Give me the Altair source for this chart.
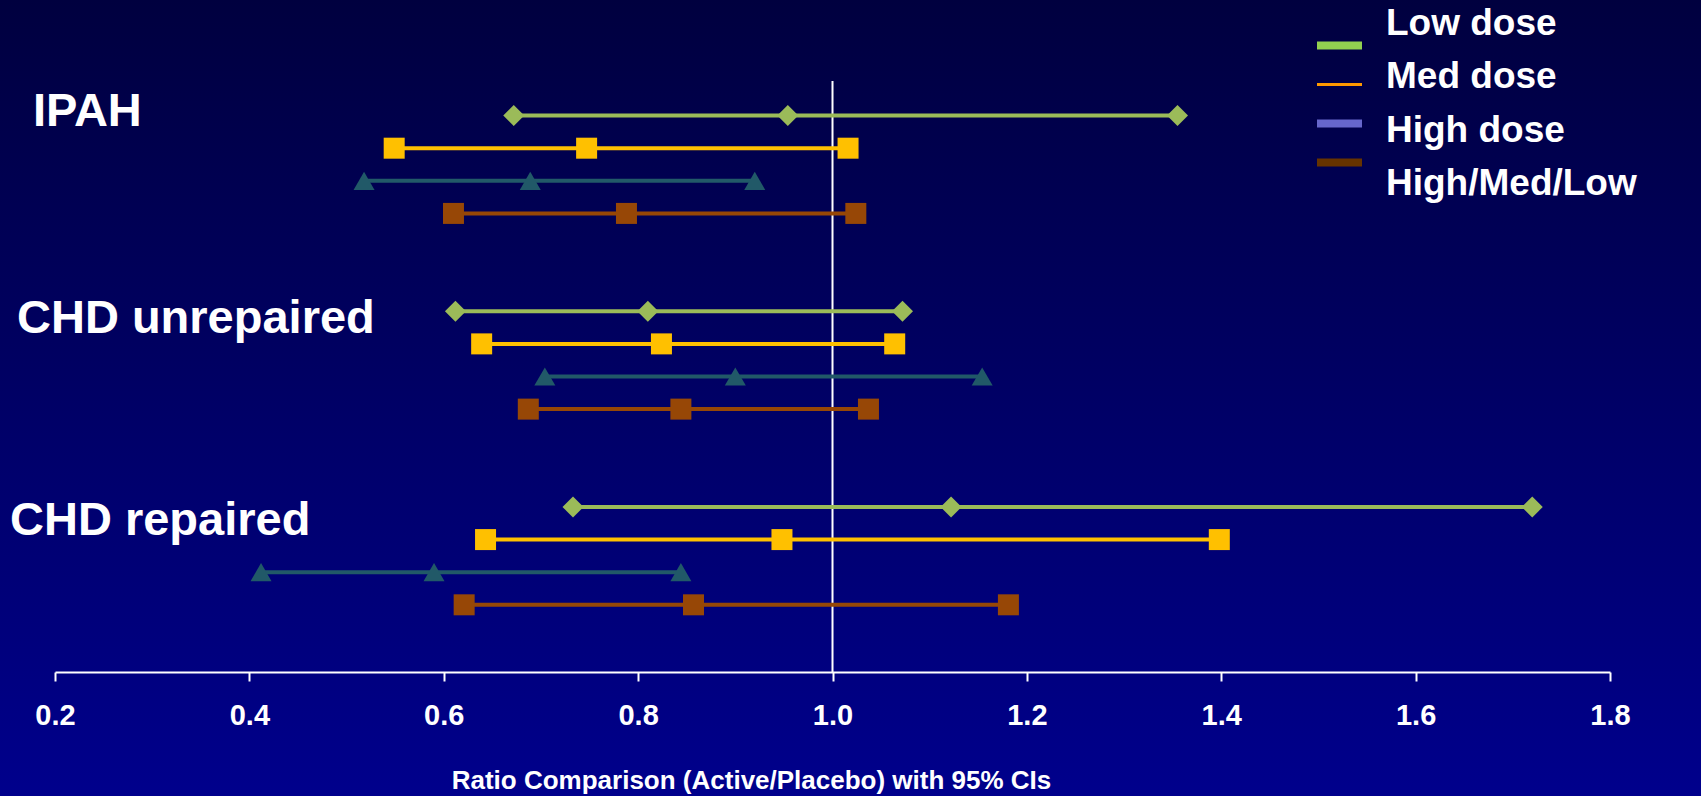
import altair as alt
import pandas as pd

groups = ["IPAH", "CHD unrepaired", "CHD repaired"]
series = ["Low dose", "Med dose", "High dose", "High/Med/Low"]
lower = [[0.672, 0.549, 0.518, 0.610],
         [0.612, 0.639, 0.704, 0.687],
         [0.733, 0.643, 0.412, 0.621]]
estimate = [[0.954, 0.747, 0.689, 0.788],
            [0.810, 0.824, 0.900, 0.844],
            [1.122, 0.948, 0.590, 0.857]]
upper = [[1.355, 1.016, 0.920, 1.024],
         [1.072, 1.064, 1.154, 1.037],
         [1.720, 1.398, 0.844, 1.181]]
x_ticks = [0.2, 0.4, 0.6, 0.8, 1.0, 1.2, 1.4, 1.6, 1.8]
reference = [1.0]

# styles
line_colors = ["#9BBB59", "#FFC000", "#215968", "#974706"]
legend_colors = ["#92D050", "#FF9900", "#6666CC", "#663300"]
thin_legend = ["Med dose"]
shapes = ["diamond", "square", "triangle-up", "square"]
label_row_offset = [0.31, 0.67, 0.87]
label_x_px = [-22, -38, -45]

W, H = 1555, 591
PL, PT = 55, 81

rows = []
pts = []
for g, grp in enumerate(groups):
    for s, ser in enumerate(series):
        r = 6 * g + s
        rows.append({"group": grp, "series": ser, "row": r,
                     "lo": lower[g][s], "est": estimate[g][s], "hi": upper[g][s]})
        for v in (lower[g][s], estimate[g][s], upper[g][s]):
            pts.append({"group": grp, "series": ser, "row": r, "value": v})
df_rows = pd.DataFrame(rows)
df_pts = pd.DataFrame(pts)
df_leg = pd.DataFrame({"series": series})

xscale = alt.Scale(domain=[0.2, 1.8], nice=False, zero=False)
yscale = alt.Scale(domain=[-1.06, 17.06], reverse=True, nice=False, zero=False)
sans = "Liberation Sans, Arial, sans-serif"

bg = alt.Chart(pd.DataFrame({"a": [0]})).mark_rect(
    fill=alt.Gradient(gradient="linear",
                      stops=[alt.GradientStop(color="#00003F", offset=0),
                             alt.GradientStop(color="#00008C", offset=1)],
                      x1=0, x2=0, y1=0, y2=1)
).encode(x=alt.value(-PL), x2=alt.value(1701 - PL),
         y=alt.value(-PT), y2=alt.value(796 - PT))

xaxis = alt.Axis(values=x_ticks, format=".1f", grid=False, zindex=2,
                 labelFlush=False, labelOverlap=False,
                 domainColor="white", domainWidth=2, tickColor="white",
                 tickWidth=2, tickSize=9, labelColor="white", labelFont=sans,
                 labelFontSize=29, labelFontWeight="bold", labelPadding=20,
                 title="Ratio Comparison (Active/Placebo) with 95% CIs",
                 titleColor="white", titleFont=sans, titleFontSize=26,
                 titleFontWeight="bold", titleY=116, titleX=696,
                 titleBaseline="alphabetic", titleAlign="center")

vline = alt.Chart(pd.DataFrame({"ref": reference})).mark_rule(
    color="white", strokeWidth=2
).encode(x=alt.X("ref:Q", scale=xscale, axis=xaxis),
         y=alt.value(0), y2=alt.value(H))

bars = alt.Chart(df_rows).mark_rule(strokeWidth=4).encode(
    x=alt.X("lo:Q", scale=xscale, axis=xaxis),
    x2="hi:Q",
    y=alt.Y("row:Q", scale=yscale, axis=None),
    stroke=alt.Stroke("series:N", scale=alt.Scale(domain=series, range=line_colors), legend=None),
)

points = alt.Chart(df_pts).mark_point(filled=True, size=441, opacity=1, strokeWidth=0).encode(
    x=alt.X("value:Q", scale=xscale, axis=xaxis),
    y=alt.Y("row:Q", scale=yscale, axis=None),
    fill=alt.Fill("series:N", scale=alt.Scale(domain=series, range=line_colors), legend=None),
    shape=alt.Shape("series:N", scale=alt.Scale(domain=series, range=shapes), legend=None),
)

# manual legend (swatches differ from the mark colours, as in the original)
sw_y = alt.Y("series:N", scale=alt.Scale(domain=series, range=[-55, 101], padding=0), axis=None)
tx_y = alt.Y("series:N", scale=alt.Scale(domain=series, range=[-59, 101], padding=0), axis=None)
leg_color = alt.Color("series:N", scale=alt.Scale(domain=series, range=legend_colors), legend=None)
thin_filter = alt.FieldOneOfPredicate(field="series", oneOf=thin_legend)
leg_thick = alt.Chart(df_leg).mark_rule(strokeWidth=8).encode(
    x=alt.value(1262), x2=alt.value(1307), y=sw_y, color=leg_color,
).transform_filter(alt.LogicalNotPredicate(**{"not": thin_filter}))
leg_thin = alt.Chart(df_leg).mark_rule(strokeWidth=3).encode(
    x=alt.value(1262), x2=alt.value(1307), y=sw_y, color=leg_color,
).transform_filter(thin_filter)
leg_text = alt.Chart(df_leg).mark_text(
    align="left", baseline="middle", dy=2, font=sans, fontSize=37,
    fontWeight="bold", color="white"
).encode(x=alt.value(1331), y=tx_y, text="series:N")

label_layers = []
for g, grp in enumerate(groups):
    d = pd.DataFrame({"group": [grp], "lrow": [6 * g + label_row_offset[g]]})
    label_layers.append(
        alt.Chart(d).mark_text(align="left", baseline="alphabetic", font=sans,
                               fontSize=47, fontWeight="bold", color="white").encode(
            x=alt.value(label_x_px[g]),
            y=alt.Y("lrow:Q", scale=yscale, axis=None),
            text="group:N")
    )

chart = alt.layer(bg, vline, bars, points, leg_thick, leg_thin, leg_text, *label_layers).resolve_scale(
    y="independent"
).properties(
    width=W, height=H,
    padding={"left": PL, "top": PT, "right": 1701 - PL - W, "bottom": 796 - PT - H},
    autosize=alt.AutoSizeParams(type="none"),
    background="#000060",
).configure_view(stroke=None)

chart.save("out.html", embed_options={"renderer": "svg", "actions": False})
